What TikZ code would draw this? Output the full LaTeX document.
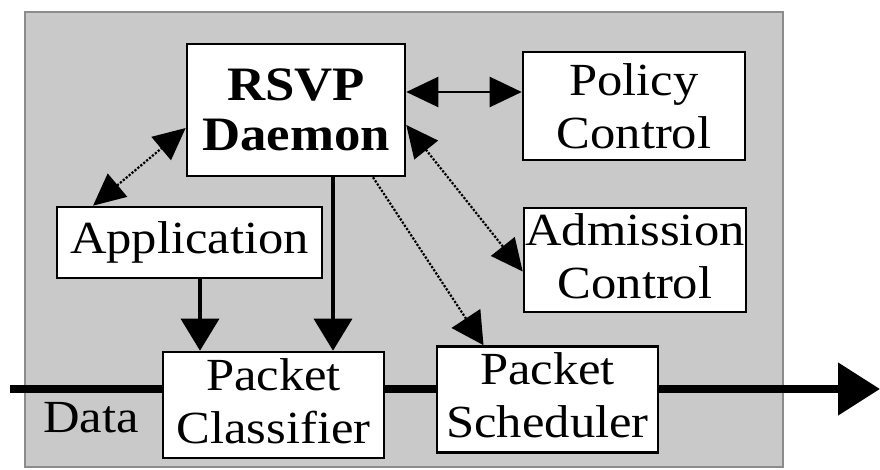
\documentclass[tikz,border=0pt]{standalone}
\usepackage{fontspec}
\setmainfont{Liberation Serif}[FakeStretch=1.1]
\usetikzlibrary{arrows.meta,calc}

\tikzset{
  panel/.style={fill=black!21, draw=black!45, line width=1.2pt},
  module/.style={draw=black, line width=2.6pt, fill=white, inner sep=0pt,
    align=center, font=\fontsize{46}{53}\selectfont},
  heavy/.style={font=\bfseries\fontsize{48}{50}\selectfont},
  lifted/.style={text depth=8pt},
  link/.style={line width=2.4pt, {Triangle[length=32pt,width=30pt]}-{Triangle[length=32pt,width=30pt]}},
  dotlink/.style={line width=2.2pt, dash pattern=on 2.2pt off 1.6pt},
  tipboth/.style={{Triangle[length=32pt,width=30pt]}-{Triangle[length=32pt,width=30pt]}},
  tipend/.style={-{Triangle[length=32pt,width=34pt]}},
  down/.style={line width=3.5pt, -{Triangle[length=32pt,width=38pt]}},
  dataflow/.style={line width=8pt, -{Triangle[length=42pt,width=51pt]}},
}

\begin{document}
\begin{tikzpicture}[x=1pt, y=-1pt]
  \useasboundingbox (0,0) rectangle (880,470);

  % grey panel holding the modules
  \draw[panel] (25,12) rectangle (783,467);

  % data path running through classifier and scheduler
  \coordinate (dataL) at (10,389);
  \coordinate (dataR) at (880,389);
  \draw[dataflow] (dataL) -- (dataR);

  % modules
  \node[module, heavy, minimum width=218pt, minimum height=132pt] (rsvp) at (296,110) {RSVP\\Daemon};
  \node[module, minimum width=222pt, minimum height=108pt] (pol) at (634,106) {Policy\\Control};
  \node[module, lifted, minimum width=222pt, minimum height=104pt] (adm) at (635,260) {Admission\\Control};
  \node[module, minimum width=265pt, minimum height=71pt] (app) at (189.5,242.5) {Application};
  \node[module, lifted, minimum width=221pt, minimum height=106pt] (pc) at (273.5,405) {Packet\\Classifier};
  \node[module, lifted, minimum width=221pt, minimum height=106pt] (ps) at (547.5,399.5) {Packet\\Scheduler};

  \node[anchor=base west, inner sep=0pt, font=\fontsize{46}{53}\selectfont] (data) at (43,432) {Data};

  % control connections
  \draw[link] ([yshift=18pt]rsvp.east) -- ([yshift=18pt]rsvp.east -| pol.west);
  \draw[dotlink, tipboth] ([yshift=-15pt]rsvp.east) -- ([yshift=-11.5pt]adm.west);
  \draw[dotlink, tipboth] ([xshift=-96.5pt]app.north) -- ([yshift=-18pt]rsvp.west);
  \draw[dotlink, tipend] ([xshift=77pt]rsvp.south) -- ([xshift=-64pt]ps.north);
  \draw[down] ([xshift=10.5pt]app.south) -- ([xshift=10.5pt]app.south |- pc.north);
  \draw[down] ([xshift=37pt]rsvp.south) -- ([xshift=37pt]rsvp.south |- pc.north);
\end{tikzpicture}
\end{document}
